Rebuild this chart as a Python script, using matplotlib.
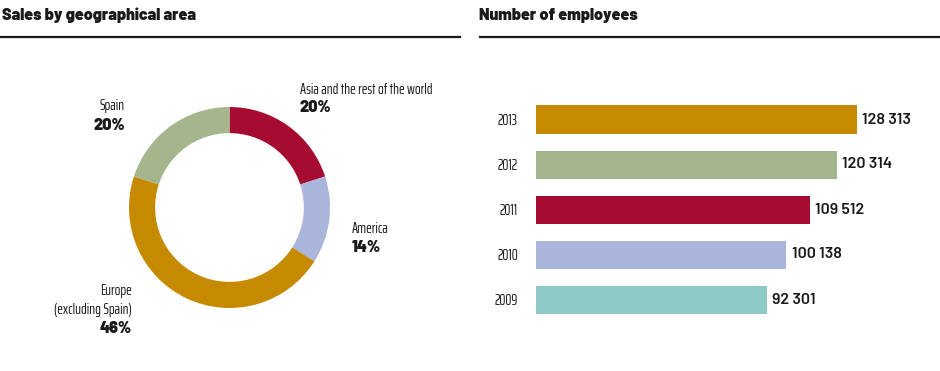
import matplotlib
matplotlib.use("Agg")
import matplotlib.pyplot as plt
from matplotlib import font_manager

# ---- data ----
regions = ["Asia and the rest of the world", "America", "Europe\n(excluding Spain)", "Spain"]
shares = [20, 14, 46, 20]
region_colors = ["#A50C30", "#A9B5DB", "#C68A00", "#A5B58C"]

years = ["2009", "2010", "2011", "2012", "2013"]
employees = [92301, 100138, 109512, 120314, 128313]
year_colors = ["#8ECAC8", "#A9B5DB", "#A50C30", "#A5B58C", "#C68A00"]

W, H = 940, 371
fonts = font_manager.fontManager.ttflist
names = {f.name for f in fonts}

def fam(*cands):
    return [n for n in cands if n in names] + ["DejaVu Sans"]

def has_bold(name):
    return any(f.name == name and isinstance(f.weight, int) and f.weight >= 700 for f in fonts)

narrow = fam("Saira ExtraCondensed", "Pathway Gothic One", "Roboto Condensed")
bold_f = [n for n in ["Barlow", "Archivo", "Roboto"] if n in names and has_bold(n)][:1] + ["DejaVu Sans"]
val_f = [n for n in ["Barlow", "Roboto"] if n in names][:1] + ["DejaVu Sans"]

fig = plt.figure(figsize=(W / 100, H / 100), dpi=100)

def fx(px):
    return px / W

def fy(py):
    return 1 - py / H

ink = "#1a1a1a"
# titles and rules
fig.text(fx(2), fy(20), "Sales by geographical area", fontsize=11.5, fontweight=900,
         family=bold_f, color=ink, va="baseline", ha="left")
fig.text(fx(479), fy(20), "Number of employees", fontsize=11.5, fontweight=900,
         family=bold_f, color=ink, va="baseline", ha="left")
fig.add_artist(plt.Line2D([fx(0), fx(460)], [fy(36.5), fy(36.5)], color=ink, lw=1.6))
fig.add_artist(plt.Line2D([fx(480), fx(940)], [fy(36.5), fy(36.5)], color=ink, lw=1.6))

# ---- donut ----
cx, cy, r = 229.5, 207.5, 100.5
axp = fig.add_axes([fx(cx - r), fy(cy + r), 2 * r / W, 2 * r / H])
axp.pie(shares, colors=region_colors, startangle=90, counterclock=False,
        wedgeprops=dict(width=0.26, edgecolor="none"), radius=1.0)
axp.set_xlim(-1, 1)
axp.set_ylim(-1, 1)
axp.set_aspect("equal")
axp.axis("off")

lab_kw = dict(fontsize=10.8, color=ink, family=narrow)
pct_kw = dict(fontsize=11.5, fontweight=900, color=ink, family=bold_f)
# Asia
fig.text(fx(300), fy(94), regions[0], ha="left", va="baseline", **lab_kw)
fig.text(fx(300), fy(112), f"{shares[0]}%", ha="left", va="baseline", **pct_kw)
# America
fig.text(fx(352), fy(233), regions[1], ha="left", va="baseline", **lab_kw)
fig.text(fx(352), fy(252), f"{shares[1]}%", ha="left", va="baseline", **pct_kw)
# Europe
eu1, eu2 = regions[2].split("\n")
fig.text(fx(132), fy(295), eu1, ha="right", va="baseline", **lab_kw)
fig.text(fx(132), fy(314), eu2, ha="right", va="baseline", **lab_kw)
fig.text(fx(132), fy(333), f"{shares[2]}%", ha="right", va="baseline", **pct_kw)
# Spain
fig.text(fx(125), fy(110), regions[3], ha="right", va="baseline", **lab_kw)
fig.text(fx(125), fy(130), f"{shares[3]}%", ha="right", va="baseline", **pct_kw)

# ---- bars ----
step = 45.0                     # px between bar centres
bottom_px = 299.5 + 0.5 * step  # bottom edge of bar axes, px from top
height_px = 5 * step
x0 = 536
scale = 0.0025  # px per employee
axb = fig.add_axes([fx(x0), fy(bottom_px), (W - x0) / W, height_px / H])
pos = list(range(len(years)))
axb.barh(pos, employees, height=28 / step, color=year_colors, edgecolor="none")
axb.set_xlim(0, (W - x0) / scale)
axb.set_ylim(-0.5, 4.5)
axb.set_yticks(pos)
axb.set_yticklabels(years, family=narrow, fontsize=11, color=ink)
axb.tick_params(axis="y", length=0, pad=13)
axb.set_xticks([])
for s in axb.spines.values():
    s.set_visible(False)
for p, v in zip(pos, employees):
    axb.annotate(f"{v:,}".replace(",", " "), (v, p), xytext=(4, 0), textcoords="offset points",
                 va="center", ha="left", fontsize=11.5, fontweight=600, family=val_f, color=ink)

fig.savefig("out.png", dpi=100, facecolor="white")
